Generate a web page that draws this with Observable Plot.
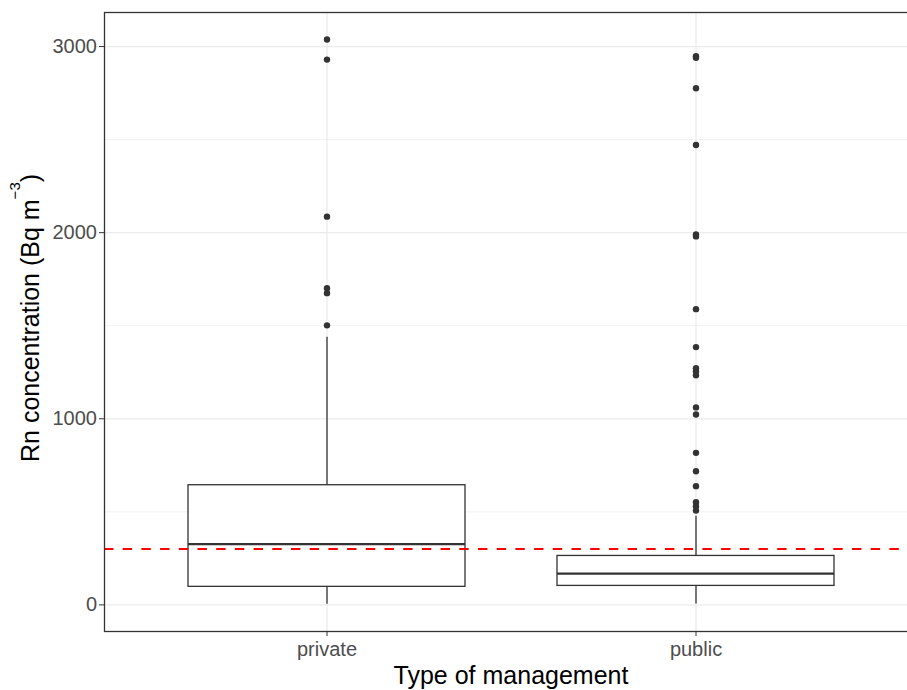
<!DOCTYPE html>
<html>
<head>
<meta charset="utf-8">
<script src="https://cdn.jsdelivr.net/npm/d3@7"></script>
<script src="https://cdn.jsdelivr.net/npm/@observablehq/plot@0.6"></script>
<style>
  body { margin: 0; background: #ffffff; }
  #chart svg { display: block; }
</style>
</head>
<body>
<div id="chart"></div>
<script>
// Radon concentration by type of building management (Bq m^-3)
const categories = ["private", "public"];

// Box statistics per category
const whiskerLow  = [3, 5];
const quartile1   = [97, 102];
const medians     = [326, 168];
const quartile3   = [643, 263];
const whiskerHigh = [1438, 476];

// Points beyond the whiskers
const privateOutliers = [3038, 2930, 2086, 1702, 1675, 1502];
const publicOutliers = [2948, 2940, 2776, 2471, 1991, 1980, 1589, 1385, 1272,
                        1256, 1234, 1061, 1023, 817, 718, 638, 552, 530, 507];

// Reference level drawn as a dashed line
const referenceLevel = 300;

// Axis ticks
const majorTicks = [0, 1000, 2000, 3000];
const minorTicks = [500, 1500, 2500];

const boxes = categories.map((type, i) => ({
  type,
  lo: whiskerLow[i],
  q1: quartile1[i],
  median: medians[i],
  q3: quartile3[i],
  hi: whiskerHigh[i]
}));

const outliers = [
  ...privateOutliers.map(value => ({type: "private", value})),
  ...publicOutliers.map(value => ({type: "public", value}))
];

const ink = "#333333";
const gridColor = "#EBEBEB";

const chart = Plot.plot({
  width: 907,
  height: 690,
  marginLeft: 104,
  marginRight: -11,
  marginTop: 12,
  marginBottom: 59,
  style: {fontFamily: "'Liberation Sans', Arial, sans-serif", background: "#ffffff", overflow: "hidden"},
  x: {type: "band", domain: categories, paddingInner: 0.25, paddingOuter: 0.225, label: null},
  y: {domain: [-143, 3183], label: null},
  marks: [
    Plot.gridY(minorTicks, {stroke: gridColor, strokeOpacity: 1, strokeWidth: 0.7}),
    Plot.gridY(majorTicks, {stroke: gridColor, strokeOpacity: 1, strokeWidth: 1.3}),
    Plot.gridX({stroke: gridColor, strokeOpacity: 1, strokeWidth: 1.3}),
    Plot.ruleX(boxes, {x: "type", y1: "lo", y2: "hi", stroke: ink, strokeWidth: 1.3}),
    Plot.barY(boxes, {x: "type", y1: "q1", y2: "q3", fill: "#ffffff", stroke: ink, strokeWidth: 1.3}),
    Plot.tickY(boxes, {x: "type", y: "median", stroke: ink, strokeWidth: 2.3}),
    Plot.dot(outliers, {x: "type", y: "value", r: 3.2, fill: ink, stroke: null}),
    Plot.ruleY([referenceLevel], {stroke: "#FF0000", strokeWidth: 2, strokeDasharray: "9.4,9.3"}),
    Plot.frame({stroke: ink, strokeWidth: 1.3}),
    Plot.axisY(majorTicks, {tickSize: 5, tickPadding: 2.5, fontSize: 20, fill: "#4D4D4D", stroke: ink, label: null, tickFormat: d => String(d)}),
    Plot.axisX({tickSize: 5, tickPadding: 5, fontSize: 20, fill: "#4D4D4D", stroke: ink, label: null})
  ]
});

document.getElementById("chart").appendChild(chart);

// Axis titles
const svg = d3.select(chart);

svg.append("text")
  .attr("x", 511)
  .attr("y", 683.5)
  .attr("text-anchor", "middle")
  .attr("font-size", 25)
  .attr("fill", "#000000")
  .text("Type of management");

const yTitle = svg.append("text")
  .attr("transform", "translate(39.3,462) rotate(-90)")
  .attr("text-anchor", "start")
  .attr("font-size", 25)
  .attr("fill", "#000000");
yTitle.append("tspan").text("Rn concentration (Bq m");
yTitle.append("tspan").attr("dy", -19).attr("font-size", 15).text("\u22123");
yTitle.append("tspan").attr("dy", 19).text(")");
</script>
</body>
</html>
